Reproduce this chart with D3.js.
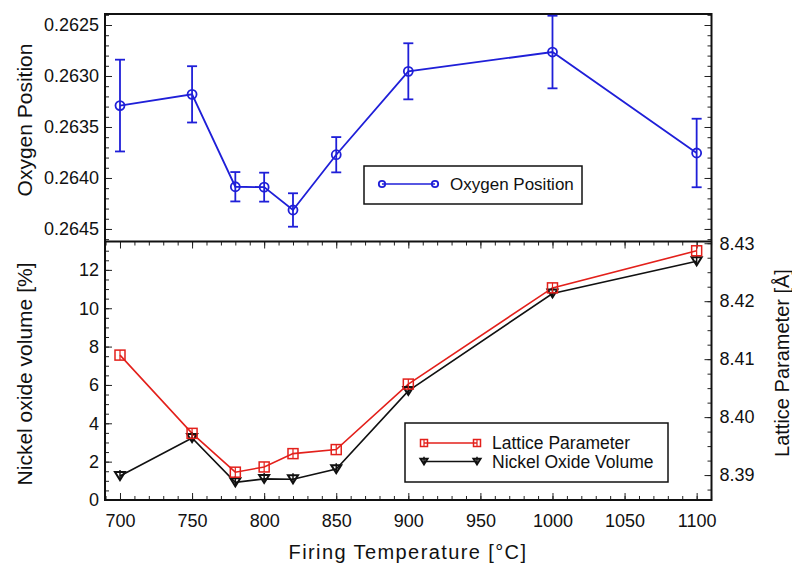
<!DOCTYPE html>
<html>
<head>
<meta charset="utf-8">
<script src="https://cdn.jsdelivr.net/npm/d3@7"></script>
<style>
  body { margin: 0; background: #fff; }
  svg { display: block; font-family: "Liberation Sans", Arial, Helvetica, sans-serif; }
  .tick text { font-size: 18px; fill: #111; }
  .tick line { stroke: #222; stroke-width: 1; }
</style>
</head>
<body>
<svg id="chart"></svg>
<script>
// firing temperatures (x)
const temps = [700, 750, 780, 800, 820, 850, 900, 1000, 1100];
// top panel: oxygen position with error bars
const oxygenPos = [0.26329, 0.26318, 0.264086, 0.26409, 0.264314, 0.263772, 0.262954, 0.262765, 0.263755];
const oxygenErr = [0.00045, 0.000276, 0.000144, 0.000142, 0.000164, 0.000173, 0.000275, 0.000356, 0.000336];
// bottom panel
const latticeParam = [8.4107, 8.3972, 8.3905, 8.3914, 8.3937, 8.3944, 8.4057, 8.4223, 8.4287];
const nioVolume = [1.25, 3.23, 0.92, 1.1, 1.08, 1.61, 5.69, 10.77, 12.45];

const tempTicks = [700, 750, 800, 850, 900, 950, 1000, 1050, 1100];
const oxygenTicks = [0.2625, 0.2630, 0.2635, 0.2640, 0.2645];
const nioTicks = [0, 2, 4, 6, 8, 10, 12];
const latticeTicks = [8.39, 8.40, 8.41, 8.42, 8.43];

const W = 792, H = 565;
const pLeft = 105, pRight = 711.5, pTop = 14, pMid = 241.5, pBottom = 500;

const blue = "#1f1fd8", red = "#e3201b", black = "#111";

const svg = d3.select("#chart").attr("width", W).attr("height", H);

// scales
const x = d3.scaleLinear().domain([689.6, 1110.3]).range([pLeft, pRight]);
const yO = d3.scaleLinear().domain([0.262392, 0.264623]).range([pTop, pMid]);
const yN = d3.scaleLinear().domain([0, 13.48]).range([pBottom, pMid]);
const yL = d3.scaleLinear().domain([8.3857, 8.4303]).range([pBottom, pMid]);

const noDomain = g => g.select(".domain").remove();

// ---- axes, ticks inward ----
// bottom x axis
svg.append("g").attr("transform", `translate(0,${pBottom})`)
    .call(d3.axisBottom(x).tickValues(tempTicks).tickSize(-7).tickPadding(14).tickFormat(d3.format("d")))
    .call(noDomain);
svg.append("g").attr("transform", `translate(0,${pBottom})`)
    .call(d3.axisBottom(x).tickValues(d3.range(690, 1111, 10)).tickSize(-4).tickFormat(""))
    .call(noDomain);
// top edge of bottom panel
svg.append("g").attr("transform", `translate(0,${pMid})`)
    .call(d3.axisTop(x).tickValues(tempTicks).tickSize(-7).tickFormat(""))
    .call(noDomain);
svg.append("g").attr("transform", `translate(0,${pMid})`)
    .call(d3.axisTop(x).tickValues(d3.range(690, 1111, 10)).tickSize(-4).tickFormat(""))
    .call(noDomain);

// top panel left axis
svg.append("g").attr("transform", `translate(${pLeft},0)`)
    .call(d3.axisLeft(yO).tickValues(oxygenTicks).tickSize(-7).tickPadding(6).tickFormat(d3.format(".4f")))
    .call(noDomain);
svg.append("g").attr("transform", `translate(${pLeft},0)`)
    .call(d3.axisLeft(yO).tickValues(d3.range(0.2624, 0.26462, 0.0001)).tickSize(-4).tickFormat(""))
    .call(noDomain);
// top panel right side (unlabelled)
svg.append("g").attr("transform", `translate(${pRight},0)`)
    .call(d3.axisRight(yO).tickValues(oxygenTicks).tickSize(-7).tickFormat(""))
    .call(noDomain);
svg.append("g").attr("transform", `translate(${pRight},0)`)
    .call(d3.axisRight(yO).tickValues(d3.range(0.2624, 0.26462, 0.0001)).tickSize(-4).tickFormat(""))
    .call(noDomain);

// bottom panel left axis (NiO volume)
svg.append("g").attr("transform", `translate(${pLeft},0)`)
    .call(d3.axisLeft(yN).tickValues(nioTicks).tickSize(-7).tickPadding(6).tickFormat(d3.format("d")))
    .call(noDomain);
svg.append("g").attr("transform", `translate(${pLeft},0)`)
    .call(d3.axisLeft(yN).tickValues(d3.range(0, 13.4, 0.5)).tickSize(-4).tickFormat(""))
    .call(noDomain);

// bottom panel right axis (lattice parameter)
svg.append("g").attr("transform", `translate(${pRight},0)`)
    .call(d3.axisRight(yL).tickValues(latticeTicks).tickSize(-7).tickPadding(8).tickFormat(d3.format(".2f")))
    .call(noDomain);
svg.append("g").attr("transform", `translate(${pRight},0)`)
    .call(d3.axisRight(yL).tickValues(d3.range(8.3875, 8.4301, 0.0025)).tickSize(-4).tickFormat(""))
    .call(noDomain);

// frame
svg.append("rect")
    .attr("x", pLeft).attr("y", pTop)
    .attr("width", pRight - pLeft).attr("height", pBottom - pTop)
    .attr("fill", "none").attr("stroke", "#111").attr("stroke-width", 2);
svg.append("line")
    .attr("x1", pLeft).attr("x2", pRight).attr("y1", pMid).attr("y2", pMid)
    .attr("stroke", "#111").attr("stroke-width", 2);

// ---- markers ----
function circleMark(g, cx, cy, r, color) {
    g.append("circle").attr("cx", cx).attr("cy", cy).attr("r", r)
        .attr("fill", "none").attr("stroke", color).attr("stroke-width", 1.8);
}
function squareMark(g, cx, cy, s, color) {
    g.append("rect").attr("x", cx - s / 2).attr("y", cy - s / 2).attr("width", s).attr("height", s)
        .attr("fill", "none").attr("stroke", color).attr("stroke-width", 1.5);
    g.append("line").attr("x1", cx).attr("x2", cx).attr("y1", cy - s / 2).attr("y2", cy + s / 2)
        .attr("stroke", color).attr("stroke-width", 1.2);
}
function triMark(g, cx, cy, s, color) {
    const h = s * 0.8;
    g.append("path")
        .attr("d", `M${cx - s / 2},${cy - h / 2}L${cx + s / 2},${cy - h / 2}L${cx},${cy + h / 2}Z`)
        .attr("fill", "none").attr("stroke", color).attr("stroke-width", 2);
    g.append("line").attr("x1", cx).attr("x2", cx).attr("y1", cy - h / 2 - 2).attr("y2", cy + h / 2)
        .attr("stroke", color).attr("stroke-width", 1.5);
}

// ---- top panel: oxygen position ----
const gTop = svg.append("g");
gTop.append("path")
    .datum(temps.map((t, i) => [t, oxygenPos[i]]))
    .attr("fill", "none").attr("stroke", blue).attr("stroke-width", 1.8)
    .attr("d", d3.line().x(d => x(d[0])).y(d => yO(d[1])));

temps.forEach((t, i) => {
    const cx = x(t);
    const y1 = yO(oxygenPos[i] - oxygenErr[i]), y2 = yO(oxygenPos[i] + oxygenErr[i]);
    gTop.append("line").attr("x1", cx).attr("x2", cx).attr("y1", y1).attr("y2", y2)
        .attr("stroke", blue).attr("stroke-width", 1.8);
    [y1, y2].forEach(yy => gTop.append("line")
        .attr("x1", cx - 5).attr("x2", cx + 5).attr("y1", yy).attr("y2", yy)
        .attr("stroke", blue).attr("stroke-width", 1.8));
    circleMark(gTop, cx, yO(oxygenPos[i]), 4.5, blue);
});

// ---- bottom panel ----
const gBot = svg.append("g");
gBot.append("path")
    .datum(temps.map((t, i) => [t, nioVolume[i]]))
    .attr("fill", "none").attr("stroke", black).attr("stroke-width", 1.6)
    .attr("d", d3.line().x(d => x(d[0])).y(d => yN(d[1])));
gBot.append("path")
    .datum(temps.map((t, i) => [t, latticeParam[i]]))
    .attr("fill", "none").attr("stroke", red).attr("stroke-width", 1.6)
    .attr("d", d3.line().x(d => x(d[0])).y(d => yL(d[1])));
temps.forEach((t, i) => triMark(gBot, x(t), yN(nioVolume[i]), 10, black));
temps.forEach((t, i) => squareMark(gBot, x(t), yL(latticeParam[i]), 10, red));

// ---- legends ----
const leg1 = svg.append("g");
leg1.append("rect").attr("x", 364).attr("y", 166).attr("width", 218).attr("height", 38)
    .attr("fill", "#fff").attr("stroke", "#111").attr("stroke-width", 1.5);
leg1.append("line").attr("x1", 382).attr("x2", 435).attr("y1", 184).attr("y2", 184)
    .attr("stroke", blue).attr("stroke-width", 1.5);
circleMark(leg1, 382, 184, 3.2, blue);
circleMark(leg1, 435, 184, 3.2, blue);
leg1.append("text").attr("x", 450).attr("y", 190).attr("font-size", 17).attr("fill", "#111")
    .text("Oxygen Position");

const leg2 = svg.append("g");
leg2.append("rect").attr("x", 405).attr("y", 423).attr("width", 263).attr("height", 59)
    .attr("fill", "#fff").attr("stroke", "#111").attr("stroke-width", 1.5);
leg2.append("line").attr("x1", 424).attr("x2", 477).attr("y1", 443).attr("y2", 443)
    .attr("stroke", red).attr("stroke-width", 1.5);
squareMark(leg2, 424, 443, 7, red);
squareMark(leg2, 477, 443, 7, red);
leg2.append("line").attr("x1", 424).attr("x2", 477).attr("y1", 461.5).attr("y2", 461.5)
    .attr("stroke", black).attr("stroke-width", 1.5);
triMark(leg2, 424, 461.5, 7, black);
triMark(leg2, 477, 461.5, 7, black);
leg2.append("text").attr("x", 492).attr("y", 449).attr("font-size", 17.5).attr("fill", "#111")
    .text("Lattice Parameter");
leg2.append("text").attr("x", 492).attr("y", 467.5).attr("font-size", 17.5).attr("fill", "#111")
    .text("Nickel Oxide Volume");

// ---- axis titles ----
svg.append("text")
    .attr("x", 408).attr("y", 559)
    .attr("text-anchor", "middle").attr("font-size", 20).attr("letter-spacing", 1.4).attr("fill", "#111")
    .text("Firing Temperature [°C]");
svg.append("text")
    .attr("transform", "translate(32,120) rotate(-90)")
    .attr("text-anchor", "middle").attr("font-size", 21).attr("fill", "#111")
    .text("Oxygen Position");
svg.append("text")
    .attr("transform", "translate(32,374) rotate(-90)")
    .attr("text-anchor", "middle").attr("font-size", 21).attr("fill", "#111")
    .text("Nickel oxide volume [%]");
svg.append("text")
    .attr("transform", "translate(789,363) rotate(-90)")
    .attr("text-anchor", "middle").attr("font-size", 20).attr("fill", "#111")
    .text("Lattice Parameter [Å]");
</script>
</body>
</html>
